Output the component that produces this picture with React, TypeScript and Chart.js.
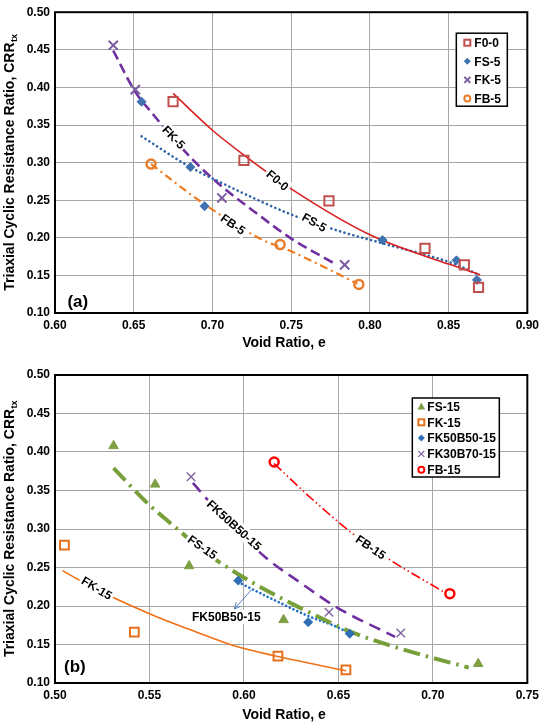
import React, { useEffect, useRef } from 'react';
import { Chart, registerables } from 'chart.js';

Chart.register(...registerables);

const FONT = "'Liberation Sans', Arial, Helvetica, sans-serif";

// ---------------- Panel (a) data ----------------
const xTicksA = [0.6, 0.65, 0.7, 0.75, 0.8, 0.85, 0.9];
const yTicks = [0.1, 0.15, 0.2, 0.25, 0.3, 0.35, 0.4, 0.45, 0.5];

const f00E = [0.675, 0.72, 0.774, 0.835, 0.86, 0.869];
const f00CRR = [0.381, 0.303, 0.249, 0.186, 0.164, 0.134];
const fs5E = [0.655, 0.686, 0.695, 0.808, 0.855, 0.868];
const fs5CRR = [0.381, 0.294, 0.242, 0.197, 0.17, 0.144];
const fk5E = [0.637, 0.651, 0.706, 0.784];
const fk5CRR = [0.456, 0.397, 0.253, 0.164];
const fb5E = [0.661, 0.743, 0.793];
const fb5CRR = [0.298, 0.191, 0.138];

// trend lines
const f00FitE = [0.675, 0.7, 0.72, 0.75, 0.8, 0.85, 0.87];
const f00FitCRR = [0.392, 0.343, 0.31, 0.265, 0.204, 0.165, 0.151];
const fs5FitE = [0.655, 0.685, 0.7, 0.75, 0.782, 0.8075, 0.854, 0.868];
const fs5FitCRR = [0.335, 0.295, 0.279, 0.231, 0.208, 0.193, 0.165, 0.152];
const fk5FitE = [0.637, 0.651, 0.66, 0.687, 0.705, 0.729, 0.75, 0.779];
const fk5FitCRR = [0.449, 0.394, 0.37, 0.305, 0.27, 0.231, 0.199, 0.164];
const fb5FitE = [0.661, 0.694, 0.731, 0.749, 0.774, 0.792];
const fb5FitCRR = [0.298, 0.246, 0.198, 0.183, 0.158, 0.139];

// ---------------- Panel (b) data ----------------
const xTicksB = [0.5, 0.55, 0.6, 0.65, 0.7, 0.75];

const fs15E = [0.531, 0.553, 0.571, 0.621, 0.724];
const fs15CRR = [0.408, 0.358, 0.252, 0.182, 0.125];
const fk15E = [0.505, 0.542, 0.618, 0.654];
const fk15CRR = [0.279, 0.166, 0.135, 0.117];
const fk50E = [0.597, 0.634, 0.656];
const fk50CRR = [0.233, 0.179, 0.164];
const fk30E = [0.572, 0.645, 0.683];
const fk30CRR = [0.368, 0.192, 0.165];
const fb15E = [0.616, 0.709];
const fb15CRR = [0.387, 0.216];

const fs15FitE = [0.531, 0.55, 0.559, 0.58, 0.592, 0.607, 0.641, 0.658, 0.685, 0.719];
const fs15FitCRR = [0.379, 0.331, 0.312, 0.269, 0.249, 0.227, 0.184, 0.165, 0.143, 0.12];
const fk15FitE = [0.504, 0.52, 0.55, 0.575, 0.594, 0.615, 0.654];
const fk15FitCRR = [0.246, 0.224, 0.19, 0.166, 0.149, 0.136, 0.116];
const fk50FitE = [0.597, 0.615, 0.635, 0.649, 0.657];
const fk50FitCRR = [0.231, 0.209, 0.186, 0.173, 0.163];
const fk30FitE = [0.573, 0.5775, 0.59, 0.611, 0.63, 0.65, 0.68];
const fk30FitCRR = [0.36, 0.347, 0.314, 0.264, 0.23, 0.197, 0.16];
const fb15FitE = [0.616, 0.636, 0.657, 0.676, 0.706];
const fb15FitCRR = [0.385, 0.339, 0.295, 0.262, 0.218];

// ---------------- helpers ----------------
const pts = (xs: number[], ys: number[]) => xs.map((x, i) => ({ x, y: ys[i] }));

function markerDs(label: string, xs: number[], ys: number[], style: string, color: string, radius: number, bw: number, filled: boolean) {
  return {
    type: 'scatter',
    label,
    data: pts(xs, ys),
    order: 0,
    pointStyle: style,
    pointRadius: radius,
    pointHoverRadius: radius,
    pointBackgroundColor: filled ? color : 'rgba(255,255,255,0)',
    pointBorderColor: color,
    pointBorderWidth: bw,
    showLine: false,
  };
}

function fitDs(xs: number[], ys: number[], color: string, width: number, dash: number[], cap: string) {
  return {
    type: 'line',
    data: pts(xs, ys),
    order: 1,
    borderColor: color,
    borderWidth: width,
    borderDash: dash,
    borderCapStyle: cap,
    pointRadius: 0,
    fill: false,
    cubicInterpolationMode: 'monotone',
  };
}

function drawMarker(ctx: CanvasRenderingContext2D, kind: string, x: number, y: number, color: string) {
  ctx.save();
  ctx.strokeStyle = color;
  ctx.fillStyle = color;
  ctx.beginPath();
  if (kind === 'square') {
    ctx.lineWidth = 2;
    ctx.strokeRect(x - 3, y - 3, 6, 6);
  } else if (kind === 'diamond') {
    ctx.moveTo(x, y - 3.5);
    ctx.lineTo(x + 3.5, y);
    ctx.lineTo(x, y + 3.5);
    ctx.lineTo(x - 3.5, y);
    ctx.closePath();
    ctx.fill();
  } else if (kind === 'x' || kind === 'xthin') {
    ctx.lineWidth = kind === 'x' ? 2 : 1.3;
    ctx.moveTo(x - 3, y - 3);
    ctx.lineTo(x + 3, y + 3);
    ctx.moveTo(x + 3, y - 3);
    ctx.lineTo(x - 3, y + 3);
    ctx.stroke();
  } else if (kind === 'circle') {
    ctx.lineWidth = 2;
    ctx.arc(x, y, 3, 0, Math.PI * 2);
    ctx.stroke();
  } else if (kind === 'triangle') {
    ctx.moveTo(x, y - 4);
    ctx.lineTo(x + 3.8, y + 3);
    ctx.lineTo(x - 3.8, y + 3);
    ctx.closePath();
    ctx.fill();
  }
  ctx.restore();
}

type Lbl = { text: string; x: number; y: number; angle: number; bg: boolean };

interface DecorCfg {
  key: string;
  labels: Lbl[];
  tag: string;
  tagX: number;
  tagY: number;
  arrow?: number[];
  legend: { text: string; kind: string; color: string }[];
  legendDx: number;
  legendDy: number;
  legendW: number;
  legendH: number;
  rowStart: number;
  rowStep: number;
  markerDx: number;
  textDx: number;
  xTitleY: number;
}

function decor(cfg: DecorCfg) {
  return {
    id: 'decor' + cfg.key,
    afterDraw(chart: any) {
      const ctx: CanvasRenderingContext2D = chart.ctx;
      const a = chart.chartArea;
      const sx = chart.scales.x;
      const sy = chart.scales.y;
      ctx.save();
      // curve labels
      ctx.font = `bold 12px ${FONT}`;
      ctx.textAlign = 'center';
      ctx.textBaseline = 'middle';
      cfg.labels.forEach((l) => {
        const px = sx.getPixelForValue(l.x);
        const py = sy.getPixelForValue(l.y);
        ctx.save();
        ctx.translate(px, py);
        ctx.rotate((l.angle * Math.PI) / 180);
        const w = ctx.measureText(l.text).width;
        if (l.bg) {
          ctx.fillStyle = '#fff';
          ctx.fillRect(-w / 2 - 2, -7, w + 4, 14);
        }
        ctx.fillStyle = '#000';
        ctx.fillText(l.text, 0, 1);
        ctx.restore();
      });
      // arrow
      if (cfg.arrow) {
        const x1 = sx.getPixelForValue(cfg.arrow[0]);
        const y1 = sy.getPixelForValue(cfg.arrow[1]);
        const x2 = sx.getPixelForValue(cfg.arrow[2]);
        const y2 = sy.getPixelForValue(cfg.arrow[3]);
        ctx.strokeStyle = '#4F81BD';
        ctx.lineWidth = 1;
        ctx.beginPath();
        ctx.moveTo(x1, y1);
        ctx.lineTo(x2, y2);
        const ang = Math.atan2(y2 - y1, x2 - x1);
        const hl = 7;
        ctx.moveTo(x2 - hl * Math.cos(ang - 0.45), y2 - hl * Math.sin(ang - 0.45));
        ctx.lineTo(x2, y2);
        ctx.lineTo(x2 - hl * Math.cos(ang + 0.45), y2 - hl * Math.sin(ang + 0.45));
        ctx.stroke();
      }
      // panel tag
      ctx.font = `bold 17px ${FONT}`;
      ctx.fillStyle = '#000';
      ctx.fillText(cfg.tag, sx.getPixelForValue(cfg.tagX), sy.getPixelForValue(cfg.tagY));
      // plot border
      ctx.strokeStyle = '#000';
      ctx.lineWidth = 2;
      ctx.strokeRect(a.left, a.top, a.right - a.left, a.bottom - a.top);
      // legend
      const bx = a.right - cfg.legendDx;
      const by = a.top + cfg.legendDy;
      ctx.fillStyle = '#fff';
      ctx.fillRect(bx, by, cfg.legendW, cfg.legendH);
      ctx.lineWidth = 1.5;
      ctx.strokeStyle = '#000';
      ctx.strokeRect(bx, by, cfg.legendW, cfg.legendH);
      ctx.font = `bold 12px ${FONT}`;
      ctx.textAlign = 'left';
      ctx.textBaseline = 'middle';
      cfg.legend.forEach((e, i) => {
        const ry = by + cfg.rowStart + i * cfg.rowStep;
        drawMarker(ctx, e.kind, bx + cfg.markerDx, ry, e.color);
        ctx.fillStyle = '#000';
        ctx.fillText(e.text, bx + cfg.textDx, ry + 1);
      });
      // x title
      ctx.font = `bold 14px ${FONT}`;
      ctx.textAlign = 'center';
      ctx.textBaseline = 'middle';
      ctx.fillStyle = '#000';
      ctx.fillText('Void Ratio, e', 284, cfg.xTitleY);
      // y title with subscript
      const main = 'Triaxial Cyclic Resistance Ratio, CRR';
      const sub = 'tx';
      ctx.font = `bold 14px ${FONT}`;
      const w1 = ctx.measureText(main).width;
      ctx.font = `bold 9px ${FONT}`;
      const w2 = ctx.measureText(sub).width;
      ctx.save();
      ctx.translate(14, (a.top + a.bottom) / 2);
      ctx.rotate(-Math.PI / 2);
      ctx.textAlign = 'left';
      ctx.textBaseline = 'alphabetic';
      const start = -(w1 + w2) / 2;
      ctx.font = `bold 14px ${FONT}`;
      ctx.fillText(main, start, 0);
      ctx.font = `bold 9px ${FONT}`;
      ctx.fillText(sub, start + w1 + 0.5, 2.5);
      ctx.restore();
      ctx.restore();
    },
  };
}

function axisOpts(ticks: number[], min: number, max: number, isX: boolean, size: number) {
  return {
    type: 'linear',
    min,
    max,
    afterBuildTicks: (scale: any) => {
      scale.ticks = ticks.map((v) => ({ value: v }));
    },
    afterFit: (scale: any) => {
      if (isX) scale.height = size;
      else scale.width = size;
    },
    ticks: {
      autoSkip: false,
      maxRotation: 0,
      padding: 5,
      color: '#000',
      font: { family: FONT, size: 12, weight: 'bold' },
      callback: (v: any) => Number(v).toFixed(2),
    },
    grid: { color: '#A6A6A6', lineWidth: 1, drawTicks: false },
    border: { display: false },
  };
}

function buildA(canvas: HTMLCanvasElement) {
  const C1 = '#C0504D';
  const datasets: any[] = [
    markerDs('F0-0', f00E, f00CRR, 'rect', C1, 6.5, 2, false),
    markerDs('FS-5', fs5E, fs5CRR, 'rectRot', '#3F72AF', 4.5, 1, true),
    markerDs('FK-5', fk5E, fk5CRR, 'crossRot', '#7B5CA0', 6.5, 2, false),
    markerDs('FB-5', fb5E, fb5CRR, 'circle', '#E87D2E', 4.5, 2.5, false),
    fitDs(f00FitE, f00FitCRR, '#DA1F1F', 1.6, [], 'butt'),
    fitDs(fs5FitE, fs5FitCRR, '#2F63A8', 2.6, [0.1, 4.5], 'round'),
    fitDs(fk5FitE, fk5FitCRR, '#7030A0', 2.6, [10, 5], 'butt'),
    fitDs(fb5FitE, fb5FitCRR, '#F07A1E', 2.2, [8, 4, 2, 4], 'butt'),
  ];
  const cfg: DecorCfg = {
    key: 'A',
    labels: [
      { text: 'F0-0', x: 0.7415, y: 0.2766, angle: 40, bg: true },
      { text: 'FK-5', x: 0.6755, y: 0.3338, angle: 46, bg: true },
      { text: 'FS-5', x: 0.7648, y: 0.2208, angle: 30, bg: true },
      { text: 'FB-5', x: 0.7132, y: 0.2182, angle: 35, bg: true },
    ],
    tag: '(a)',
    tagX: 0.6145,
    tagY: 0.1143,
    legend: [
      { text: 'F0-0', kind: 'square', color: C1 },
      { text: 'FS-5', kind: 'diamond', color: '#3F72AF' },
      { text: 'FK-5', kind: 'x', color: '#7B5CA0' },
      { text: 'FB-5', kind: 'circle', color: '#E87D2E' },
    ],
    legendDx: 71,
    legendDy: 21,
    legendW: 51,
    legendH: 73,
    rowStart: 9.5,
    rowStep: 18.6,
    markerDx: 11,
    textDx: 18,
    xTitleY: 343,
  };
  return new Chart(canvas, {
    type: 'scatter',
    data: { datasets },
    options: {
      animation: false,
      responsive: false,
      devicePixelRatio: 1,
      layout: { padding: { top: 5, right: 12, left: 0, bottom: 0 } },
      plugins: { legend: { display: false }, tooltip: { enabled: false } },
      scales: {
        x: axisOpts(xTicksA, 0.6, 0.9, true, 47),
        y: axisOpts(yTicks, 0.1, 0.5, false, 55),
      },
    } as any,
    plugins: [decor(cfg)],
  } as any);
}

function buildB(canvas: HTMLCanvasElement) {
  const G = '#7F9F45';
  const O = '#E8701A';
  const B = '#2F6EB5';
  const P = '#8064A2';
  const R = '#FF0000';
  const datasets: any[] = [
    markerDs('FS-15', fs15E, fs15CRR, 'triangle', G, 5.5, 1, true),
    markerDs('FK-15', fk15E, fk15CRR, 'rect', O, 6.2, 2, false),
    markerDs('FK50B50-15', fk50E, fk50CRR, 'rectRot', B, 4.5, 1, true),
    markerDs('FK30B70-15', fk30E, fk30CRR, 'crossRot', P, 6, 1.4, false),
    markerDs('FB-15', fb15E, fb15CRR, 'circle', R, 4.5, 2.5, false),
    fitDs(fs15FitE, fs15FitCRR, '#77A03A', 4, [17, 6, 2.5, 6], 'butt'),
    fitDs(fk15FitE, fk15FitCRR, '#F07014', 1.6, [], 'butt'),
    fitDs(fk50FitE, fk50FitCRR, '#1F6FC5', 2.6, [0.1, 4], 'round'),
    fitDs(fk30FitE, fk30FitCRR, '#7030A0', 2.6, [12, 7], 'butt'),
    fitDs(fb15FitE, fb15FitCRR, R, 1.6, [10, 3, 1.5, 3, 1.5, 3], 'butt'),
  ];
  const cfg: DecorCfg = {
    key: 'B',
    labels: [
      { text: 'FK50B50-15', x: 0.5949, y: 0.3052, angle: 42, bg: true },
      { text: 'FS-15', x: 0.5781, y: 0.2766, angle: 35, bg: true },
      { text: 'FK-15', x: 0.5222, y: 0.2234, angle: 31, bg: true },
      { text: 'FK50B50-15', x: 0.5907, y: 0.1857, angle: 0, bg: true },
      { text: 'FB-15', x: 0.6672, y: 0.2766, angle: 34, bg: true },
    ],
    tag: '(b)',
    tagX: 0.5105,
    tagY: 0.1208,
    arrow: [0.6039, 0.2208, 0.5949, 0.1961],
    legend: [
      { text: 'FS-15', kind: 'triangle', color: G },
      { text: 'FK-15', kind: 'square', color: O },
      { text: 'FK50B50-15', kind: 'diamond', color: B },
      { text: 'FK30B70-15', kind: 'xthin', color: P },
      { text: 'FB-15', kind: 'circle', color: R },
    ],
    legendDx: 115,
    legendDy: 23,
    legendW: 87,
    legendH: 79,
    rowStart: 8.5,
    rowStep: 15.8,
    markerDx: 9,
    textDx: 15,
    xTitleY: 355,
  };
  return new Chart(canvas, {
    type: 'scatter',
    data: { datasets },
    options: {
      animation: false,
      responsive: false,
      devicePixelRatio: 1,
      layout: { padding: { top: 15, right: 15, left: 0, bottom: 0 } },
      plugins: { legend: { display: false }, tooltip: { enabled: false } },
      scales: {
        x: axisOpts(xTicksB, 0.5, 0.75, true, 41),
        y: axisOpts(yTicks, 0.1, 0.5, false, 55),
      },
    } as any,
    plugins: [decor(cfg)],
  } as any);
}

export default function App() {
  const refA = useRef<HTMLCanvasElement | null>(null);
  const refB = useRef<HTMLCanvasElement | null>(null);
  useEffect(() => {
    const ca = buildA(refA.current!);
    const cb = buildB(refB.current!);
    return () => {
      ca.destroy();
      cb.destroy();
    };
  }, []);
  return (
    <div style={{ position: 'absolute', left: 0, top: 0, width: 544, height: 724, background: '#fff' }}>
      <canvas ref={refA} width={544} height={360} style={{ display: 'block', width: 544, height: 360 }} />
      <canvas ref={refB} width={544} height={364} style={{ display: 'block', width: 544, height: 364 }} />
    </div>
  );
}
